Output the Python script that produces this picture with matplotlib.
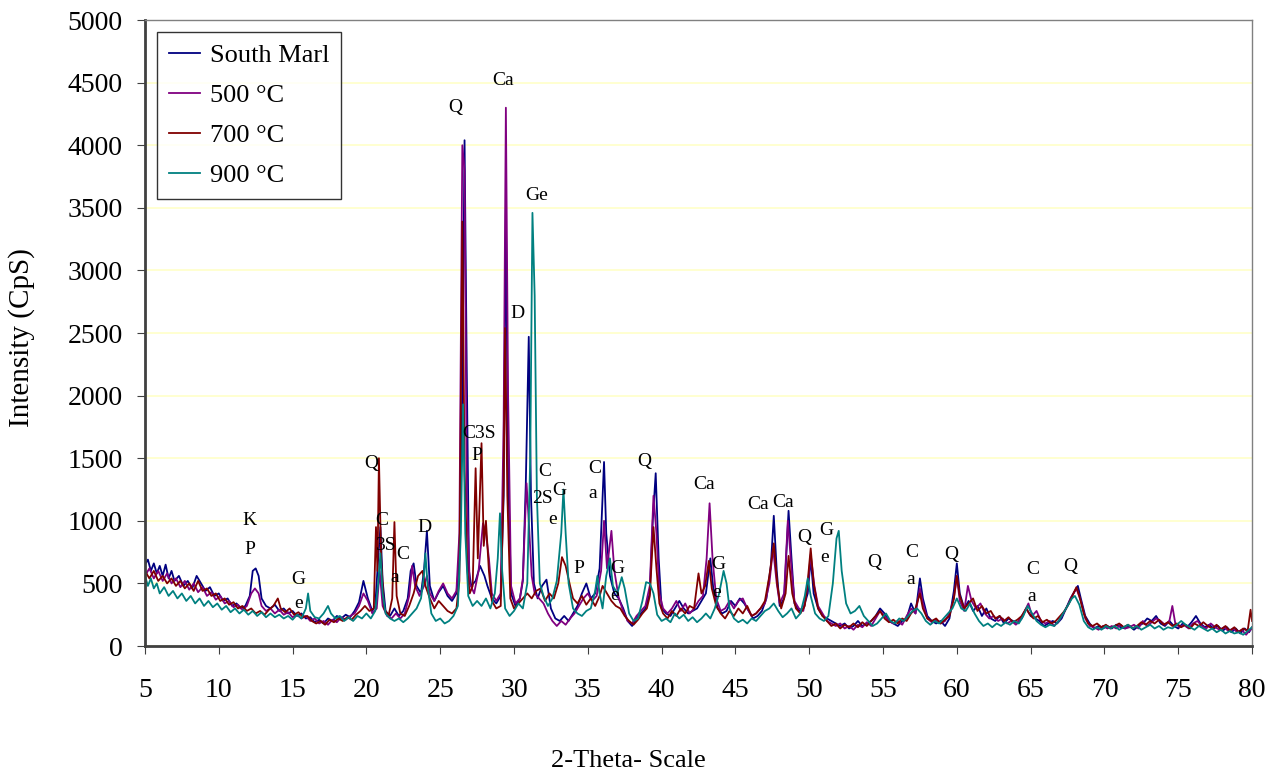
import matplotlib
matplotlib.use("Agg")
import matplotlib.pyplot as plt

# XRD patterns: (2-theta, intensity CpS)
south_marl = [
    (5.0, 650), (5.2, 690), (5.4, 600), (5.6, 660), (5.8, 580), (6.0, 640), (6.2, 560), (6.4, 650),
    (6.6, 540), (6.8, 600), (7.0, 520), (7.3, 560), (7.6, 480), (7.9, 520), (8.2, 460), (8.5, 560),
    (8.8, 500), (9.1, 440), (9.4, 470), (9.7, 400), (10.0, 420), (10.3, 360), (10.6, 380), (10.9, 320),
    (11.2, 340), (11.5, 300), (11.8, 320), (12.1, 400), (12.3, 600), (12.5, 620), (12.7, 560), (12.9, 380),
    (13.2, 320), (13.5, 300), (13.8, 330), (14.1, 280), (14.4, 300), (14.7, 260), (15.0, 280), (15.3, 240),
    (15.6, 260), (15.9, 220), (16.2, 230), (16.5, 190), (16.8, 210), (17.1, 180), (17.4, 220), (17.7, 200),
    (18.0, 240), (18.3, 220), (18.6, 250), (18.9, 230), (19.2, 280), (19.5, 350), (19.8, 520), (20.1, 380),
    (20.4, 280), (20.6, 320), (20.8, 700), (20.95, 950), (21.1, 520), (21.3, 280), (21.6, 240), (21.9, 300),
    (22.2, 240), (22.5, 280), (22.8, 380), (23.0, 600), (23.2, 660), (23.4, 480), (23.7, 420), (23.9, 600),
    (24.1, 920), (24.3, 480), (24.6, 360), (24.9, 430), (25.2, 480), (25.5, 400), (25.8, 360), (26.1, 420),
    (26.3, 700), (26.5, 2000), (26.65, 4040), (26.8, 2200), (26.95, 600), (27.1, 480), (27.4, 520), (27.7, 640),
    (28.0, 560), (28.2, 480), (28.5, 380), (28.8, 340), (29.1, 400), (29.3, 1200), (29.45, 3500), (29.6, 1400),
    (29.8, 420), (30.1, 320), (30.4, 380), (30.6, 520), (30.8, 1300), (31.0, 2470), (31.15, 1200), (31.35, 500),
    (31.6, 380), (31.9, 480), (32.2, 530), (32.5, 300), (32.8, 220), (33.1, 200), (33.4, 240), (33.7, 200),
    (34.0, 260), (34.3, 320), (34.6, 420), (34.9, 500), (35.2, 380), (35.5, 420), (35.8, 620), (36.0, 1200),
    (36.1, 1470), (36.25, 900), (36.5, 560), (36.8, 420), (37.1, 380), (37.4, 300), (37.7, 200), (38.0, 160),
    (38.3, 220), (38.6, 260), (38.9, 300), (39.2, 420), (39.4, 1000), (39.6, 1380), (39.8, 700), (40.0, 300),
    (40.3, 260), (40.6, 240), (40.9, 300), (41.2, 360), (41.5, 300), (41.8, 260), (42.1, 280), (42.4, 300),
    (42.7, 360), (43.0, 420), (43.3, 700), (43.5, 460), (43.8, 300), (44.1, 260), (44.4, 280), (44.7, 360),
    (45.0, 320), (45.3, 380), (45.6, 340), (45.9, 280), (46.2, 220), (46.5, 240), (46.8, 280), (47.1, 380),
    (47.4, 640), (47.6, 1040), (47.8, 600), (48.0, 320), (48.3, 380), (48.6, 1080), (48.8, 700), (49.0, 340),
    (49.3, 280), (49.6, 300), (49.9, 420), (50.1, 700), (50.3, 420), (50.6, 300), (50.9, 240), (51.2, 220),
    (51.5, 200), (51.8, 180), (52.1, 160), (52.4, 180), (52.7, 140), (53.0, 160), (53.3, 200), (53.6, 160),
    (53.9, 180), (54.2, 200), (54.5, 240), (54.8, 300), (55.1, 260), (55.4, 200), (55.7, 180), (56.0, 160),
    (56.3, 200), (56.6, 220), (56.9, 340), (57.2, 260), (57.5, 540), (57.7, 380), (58.0, 240), (58.3, 200),
    (58.6, 180), (58.9, 200), (59.2, 160), (59.5, 220), (59.8, 440), (60.0, 660), (60.2, 420), (60.5, 300),
    (60.8, 360), (61.1, 280), (61.4, 320), (61.7, 240), (62.0, 300), (62.3, 220), (62.6, 200), (62.9, 240),
    (63.2, 180), (63.5, 220), (63.8, 200), (64.1, 180), (64.4, 220), (64.7, 300), (65.0, 240), (65.3, 220),
    (65.6, 200), (65.9, 160), (66.2, 180), (66.5, 200), (66.8, 180), (67.1, 220), (67.4, 300), (67.7, 380),
    (68.0, 440), (68.2, 480), (68.4, 380), (68.7, 240), (69.0, 180), (69.3, 140), (69.6, 160), (69.9, 140),
    (70.2, 160), (70.5, 140), (70.8, 170), (71.1, 150), (71.4, 140), (71.7, 160), (72.0, 130), (72.3, 160),
    (72.6, 180), (72.9, 220), (73.2, 200), (73.5, 240), (73.8, 180), (74.1, 160), (74.4, 200), (74.7, 160),
    (75.0, 140), (75.3, 180), (75.6, 150), (75.9, 190), (76.2, 240), (76.5, 180), (76.8, 150), (77.1, 170),
    (77.4, 140), (77.7, 160), (78.0, 120), (78.3, 150), (78.6, 110), (78.9, 140), (79.2, 100), (79.5, 140),
    (79.8, 110), (80.0, 150),
]

t500 = [
    (5.0, 560), (5.3, 620), (5.6, 540), (5.9, 600), (6.2, 520), (6.5, 580), (6.8, 500), (7.1, 540),
    (7.4, 470), (7.7, 520), (8.0, 450), (8.3, 500), (8.6, 430), (8.9, 470), (9.2, 400), (9.5, 430),
    (9.8, 370), (10.1, 400), (10.4, 340), (10.7, 360), (11.0, 310), (11.3, 330), (11.6, 290), (11.9, 320),
    (12.2, 420), (12.45, 460), (12.7, 420), (12.9, 320), (13.2, 280), (13.5, 300), (13.8, 260), (14.1, 290),
    (14.4, 250), (14.7, 270), (15.0, 230), (15.3, 250), (15.6, 220), (15.9, 240), (16.2, 200), (16.5, 220),
    (16.8, 180), (17.1, 200), (17.4, 170), (17.7, 210), (18.0, 190), (18.3, 230), (18.6, 210), (18.9, 240),
    (19.2, 260), (19.5, 320), (19.8, 420), (20.1, 360), (20.4, 260), (20.7, 300), (20.9, 600), (21.1, 320),
    (21.4, 240), (21.7, 220), (22.0, 260), (22.3, 220), (22.6, 260), (22.9, 400), (23.1, 640), (23.3, 480),
    (23.6, 400), (23.9, 480), (24.1, 560), (24.3, 420), (24.6, 360), (24.9, 440), (25.2, 500), (25.5, 420),
    (25.8, 380), (26.1, 440), (26.3, 900), (26.5, 4000), (26.65, 3800), (26.8, 1200), (27.0, 500), (27.3, 420),
    (27.6, 600), (27.9, 980), (28.1, 900), (28.3, 700), (28.5, 420), (28.8, 360), (29.1, 420), (29.3, 1800),
    (29.45, 4300), (29.6, 2000), (29.8, 480), (30.1, 340), (30.4, 380), (30.6, 540), (30.85, 1300), (31.0, 1000),
    (31.2, 560), (31.4, 420), (31.7, 380), (32.0, 340), (32.3, 260), (32.6, 200), (32.9, 160), (33.2, 200),
    (33.5, 170), (33.8, 220), (34.1, 260), (34.4, 320), (34.7, 380), (35.0, 420), (35.3, 360), (35.6, 400),
    (35.9, 600), (36.1, 1000), (36.3, 620), (36.6, 920), (36.8, 600), (37.1, 380), (37.4, 280), (37.7, 200),
    (38.0, 180), (38.3, 240), (38.6, 280), (38.9, 320), (39.2, 480), (39.45, 1200), (39.65, 900), (39.85, 420),
    (40.1, 300), (40.4, 260), (40.7, 300), (41.0, 360), (41.3, 280), (41.6, 340), (41.9, 260), (42.2, 300),
    (42.5, 360), (42.8, 400), (43.05, 700), (43.25, 1140), (43.45, 700), (43.7, 380), (44.0, 280), (44.3, 300),
    (44.6, 360), (44.9, 300), (45.2, 360), (45.5, 380), (45.8, 300), (46.1, 240), (46.4, 260), (46.7, 300),
    (47.0, 340), (47.3, 500), (47.55, 780), (47.8, 500), (48.0, 340), (48.3, 420), (48.55, 1000), (48.8, 620),
    (49.0, 360), (49.3, 300), (49.6, 280), (49.9, 480), (50.1, 730), (50.35, 480), (50.6, 320), (50.9, 260),
    (51.2, 200), (51.5, 180), (51.8, 160), (52.1, 180), (52.4, 140), (52.7, 160), (53.0, 130), (53.3, 170),
    (53.6, 150), (53.9, 190), (54.2, 160), (54.5, 220), (54.8, 280), (55.1, 240), (55.4, 200), (55.7, 180),
    (56.0, 200), (56.3, 170), (56.6, 240), (56.9, 300), (57.2, 260), (57.5, 460), (57.7, 340), (58.0, 220),
    (58.3, 190), (58.6, 210), (58.9, 180), (59.2, 200), (59.5, 260), (59.8, 380), (60.0, 560), (60.2, 360),
    (60.5, 280), (60.75, 480), (61.0, 360), (61.3, 300), (61.6, 340), (61.9, 260), (62.2, 220), (62.5, 240),
    (62.8, 200), (63.1, 220), (63.4, 180), (63.7, 200), (64.0, 170), (64.3, 220), (64.6, 280), (64.85, 340),
    (65.1, 240), (65.4, 280), (65.7, 200), (66.0, 180), (66.3, 200), (66.6, 160), (66.9, 200), (67.2, 260),
    (67.5, 320), (67.8, 400), (68.1, 460), (68.4, 360), (68.7, 220), (69.0, 160), (69.3, 150), (69.6, 130),
    (69.9, 160), (70.2, 140), (70.5, 160), (70.8, 140), (71.1, 170), (71.4, 140), (71.7, 150), (72.0, 170),
    (72.3, 140), (72.6, 200), (72.9, 160), (73.2, 190), (73.5, 220), (73.8, 200), (74.1, 170), (74.4, 200),
    (74.6, 320), (74.8, 180), (75.1, 150), (75.4, 170), (75.7, 140), (76.0, 180), (76.3, 200), (76.6, 160),
    (76.9, 140), (77.2, 180), (77.5, 150), (77.8, 130), (78.1, 150), (78.4, 120), (78.7, 140), (79.0, 110),
    (79.3, 130), (79.6, 90), (79.8, 120), (80.0, 140),
]

t700 = [
    (5.0, 600), (5.3, 540), (5.6, 600), (5.9, 520), (6.2, 560), (6.5, 500), (6.8, 540), (7.1, 480),
    (7.4, 520), (7.7, 460), (8.0, 500), (8.3, 440), (8.6, 520), (8.9, 440), (9.2, 460), (9.5, 400),
    (9.8, 420), (10.1, 360), (10.4, 380), (10.7, 330), (11.0, 350), (11.3, 300), (11.6, 320), (11.9, 280),
    (12.2, 300), (12.5, 260), (12.8, 280), (13.1, 250), (13.4, 290), (13.7, 320), (14.0, 380), (14.2, 300),
    (14.5, 270), (14.8, 300), (15.1, 250), (15.4, 270), (15.7, 230), (16.0, 240), (16.3, 200), (16.6, 180),
    (16.9, 200), (17.2, 170), (17.5, 210), (17.8, 190), (18.1, 220), (18.4, 200), (18.7, 230), (19.0, 210),
    (19.3, 250), (19.6, 280), (19.9, 320), (20.2, 280), (20.5, 300), (20.65, 950), (20.75, 600), (20.85, 1500),
    (21.0, 700), (21.2, 300), (21.5, 240), (21.75, 380), (21.9, 990), (22.05, 400), (22.3, 260), (22.6, 240),
    (22.9, 320), (23.2, 420), (23.5, 560), (23.8, 600), (24.0, 480), (24.3, 380), (24.6, 300), (24.9, 360),
    (25.2, 320), (25.5, 280), (25.8, 260), (26.1, 300), (26.3, 520), (26.5, 3390), (26.65, 1400), (26.85, 600),
    (27.0, 420), (27.2, 480), (27.4, 1420), (27.55, 700), (27.8, 1620), (27.95, 800), (28.1, 1000), (28.3, 600),
    (28.5, 360), (28.8, 300), (29.1, 320), (29.3, 1300), (29.4, 2540), (29.55, 1200), (29.75, 380), (30.0, 300),
    (30.3, 340), (30.6, 380), (30.9, 420), (31.2, 380), (31.5, 440), (31.8, 460), (32.1, 360), (32.4, 420),
    (32.7, 380), (33.0, 500), (33.25, 710), (33.5, 640), (33.8, 480), (34.0, 380), (34.3, 340), (34.6, 400),
    (34.9, 330), (35.2, 380), (35.5, 320), (35.8, 400), (36.0, 480), (36.3, 420), (36.6, 360), (36.9, 320),
    (37.2, 300), (37.5, 240), (37.8, 200), (38.1, 170), (38.4, 210), (38.7, 260), (39.0, 300), (39.2, 400),
    (39.45, 950), (39.65, 620), (39.85, 340), (40.1, 260), (40.4, 220), (40.7, 280), (41.0, 240), (41.3, 300),
    (41.6, 260), (41.9, 320), (42.2, 300), (42.5, 580), (42.7, 420), (42.95, 480), (43.2, 680), (43.4, 460),
    (43.7, 320), (44.0, 260), (44.3, 220), (44.6, 280), (44.9, 240), (45.2, 300), (45.5, 260), (45.8, 320),
    (46.1, 240), (46.4, 260), (46.7, 300), (47.0, 360), (47.3, 560), (47.6, 820), (47.85, 480), (48.1, 300),
    (48.4, 420), (48.6, 720), (48.85, 420), (49.1, 300), (49.4, 260), (49.7, 320), (49.9, 520), (50.1, 780),
    (50.3, 500), (50.6, 300), (50.9, 240), (51.2, 200), (51.5, 160), (51.8, 180), (52.1, 140), (52.4, 170),
    (52.7, 150), (53.0, 180), (53.3, 150), (53.6, 190), (53.9, 160), (54.2, 200), (54.5, 240), (54.8, 280),
    (55.1, 220), (55.4, 190), (55.7, 210), (56.0, 180), (56.3, 220), (56.6, 200), (56.9, 260), (57.2, 300),
    (57.5, 420), (57.7, 300), (58.0, 220), (58.3, 200), (58.6, 220), (58.9, 180), (59.2, 210), (59.5, 240),
    (59.8, 380), (60.0, 560), (60.2, 400), (60.5, 300), (60.8, 340), (61.1, 380), (61.4, 280), (61.7, 320),
    (62.0, 260), (62.3, 280), (62.6, 220), (62.9, 240), (63.2, 200), (63.5, 230), (63.8, 190), (64.1, 210),
    (64.4, 240), (64.7, 300), (64.9, 260), (65.2, 220), (65.5, 240), (65.8, 190), (66.1, 210), (66.4, 180),
    (66.7, 200), (67.0, 240), (67.3, 280), (67.6, 340), (67.9, 420), (68.1, 470), (68.3, 400), (68.6, 260),
    (68.9, 180), (69.2, 160), (69.5, 180), (69.8, 150), (70.1, 170), (70.4, 140), (70.7, 160), (71.0, 180),
    (71.3, 150), (71.6, 170), (71.9, 140), (72.2, 160), (72.5, 190), (72.8, 170), (73.1, 200), (73.4, 180),
    (73.7, 210), (74.0, 170), (74.3, 190), (74.6, 160), (74.9, 180), (75.2, 150), (75.5, 170), (75.8, 140),
    (76.1, 180), (76.4, 160), (76.7, 190), (77.0, 160), (77.3, 140), (77.6, 170), (77.9, 130), (78.2, 160),
    (78.5, 120), (78.8, 150), (79.1, 110), (79.4, 140), (79.7, 120), (79.9, 290), (80.0, 200),
]

t900 = [
    (5.0, 560), (5.2, 480), (5.4, 540), (5.6, 460), (5.8, 500), (6.0, 420), (6.3, 470), (6.6, 400),
    (6.9, 440), (7.2, 380), (7.5, 420), (7.8, 360), (8.1, 400), (8.4, 340), (8.7, 380), (9.0, 320),
    (9.3, 360), (9.6, 310), (9.9, 340), (10.2, 290), (10.5, 320), (10.8, 270), (11.1, 300), (11.4, 260),
    (11.7, 290), (12.0, 250), (12.3, 280), (12.6, 240), (12.9, 270), (13.2, 230), (13.5, 260), (13.8, 230),
    (14.1, 250), (14.4, 220), (14.7, 240), (15.0, 210), (15.3, 250), (15.6, 220), (15.9, 300), (16.05, 420),
    (16.2, 280), (16.5, 230), (16.8, 220), (17.1, 260), (17.4, 320), (17.6, 260), (17.9, 220), (18.2, 240),
    (18.5, 200), (18.8, 230), (19.1, 200), (19.4, 240), (19.7, 220), (20.0, 260), (20.3, 220), (20.6, 280),
    (20.8, 500), (20.95, 740), (21.1, 420), (21.3, 260), (21.6, 220), (21.9, 200), (22.2, 220), (22.5, 190),
    (22.8, 220), (23.1, 260), (23.4, 300), (23.7, 380), (23.9, 560), (24.0, 740), (24.15, 480), (24.4, 260),
    (24.7, 200), (25.0, 220), (25.3, 180), (25.6, 200), (25.9, 240), (26.2, 320), (26.4, 900), (26.55, 1930),
    (26.7, 900), (26.9, 400), (27.2, 320), (27.5, 360), (27.8, 320), (28.1, 380), (28.4, 300), (28.7, 420),
    (28.9, 700), (29.05, 1060), (29.2, 600), (29.4, 300), (29.7, 240), (30.0, 280), (30.3, 340), (30.6, 300),
    (30.9, 500), (31.1, 1500), (31.25, 3460), (31.4, 2800), (31.55, 1200), (31.75, 500), (32.0, 400), (32.3, 320),
    (32.6, 380), (32.9, 520), (33.2, 900), (33.35, 1250), (33.5, 900), (33.7, 500), (34.0, 300), (34.3, 260),
    (34.6, 240), (34.9, 280), (35.2, 300), (35.5, 440), (35.65, 560), (35.8, 420), (36.0, 300), (36.25, 560),
    (36.5, 700), (36.7, 480), (37.0, 420), (37.3, 550), (37.5, 460), (37.8, 260), (38.1, 200), (38.4, 220),
    (38.7, 360), (38.95, 510), (39.2, 500), (39.45, 420), (39.7, 250), (40.0, 200), (40.3, 220), (40.6, 190),
    (40.9, 260), (41.2, 220), (41.5, 250), (41.8, 200), (42.1, 230), (42.4, 190), (42.7, 220), (43.0, 260),
    (43.3, 220), (43.6, 300), (43.9, 420), (44.2, 600), (44.4, 500), (44.6, 300), (44.9, 220), (45.2, 190),
    (45.5, 210), (45.8, 180), (46.1, 220), (46.4, 200), (46.7, 240), (47.0, 280), (47.3, 300), (47.6, 340),
    (47.9, 280), (48.2, 230), (48.5, 260), (48.8, 300), (49.1, 220), (49.4, 260), (49.7, 400), (49.9, 540),
    (50.1, 400), (50.4, 260), (50.7, 220), (51.0, 200), (51.3, 240), (51.6, 500), (51.85, 860), (52.0, 920),
    (52.2, 600), (52.5, 340), (52.8, 260), (53.1, 280), (53.4, 320), (53.7, 240), (54.0, 200), (54.3, 160),
    (54.6, 180), (54.9, 220), (55.2, 260), (55.5, 200), (55.8, 180), (56.1, 220), (56.4, 200), (56.7, 240),
    (57.0, 280), (57.3, 300), (57.6, 260), (57.9, 200), (58.2, 170), (58.5, 200), (58.8, 180), (59.1, 220),
    (59.4, 260), (59.7, 300), (60.0, 380), (60.3, 300), (60.6, 280), (60.9, 340), (61.2, 260), (61.5, 200),
    (61.8, 160), (62.1, 180), (62.4, 150), (62.7, 180), (63.0, 160), (63.3, 190), (63.6, 170), (63.9, 200),
    (64.2, 180), (64.5, 240), (64.8, 320), (65.1, 260), (65.4, 200), (65.7, 170), (66.0, 150), (66.3, 170),
    (66.6, 160), (66.9, 200), (67.2, 260), (67.5, 320), (67.8, 380), (68.0, 400), (68.3, 330), (68.6, 200),
    (68.9, 150), (69.2, 130), (69.5, 150), (69.8, 130), (70.1, 160), (70.4, 140), (70.7, 160), (71.0, 130),
    (71.3, 150), (71.6, 170), (71.9, 140), (72.2, 160), (72.5, 130), (72.8, 150), (73.1, 170), (73.4, 140),
    (73.7, 160), (74.0, 130), (74.3, 150), (74.6, 140), (74.9, 170), (75.2, 200), (75.5, 170), (75.8, 150),
    (76.1, 130), (76.4, 160), (76.7, 140), (77.0, 120), (77.3, 140), (77.6, 110), (77.9, 130), (78.2, 100),
    (78.5, 120), (78.8, 100), (79.1, 110), (79.4, 90), (79.7, 120), (80.0, 150),
]

series_names = ["South Marl", "500 °C", "700 °C", "900 °C"]
series_colors = ["#000080", "#800080", "#800000", "#008080"]

# phase labels (text, 2-theta, intensity)
phase_labels = [
    ("K", 12.1, 1000), ("P", 12.1, 770), ("G", 15.4, 530), ("e", 15.4, 340),
    ("Q", 20.3, 1460), ("C", 21.05, 1000), ("3S", 21.3, 800), ("C", 22.45, 730), ("a", 21.95, 545),
    ("D", 23.95, 950), ("Q", 26.0, 4300), ("Ca", 29.25, 4520), ("Ge", 31.55, 3600),
    ("D", 30.25, 2660), ("C3S", 27.6, 1700), ("P", 27.5, 1520),
    ("C", 32.05, 1390), ("2S", 31.9, 1180), ("G", 33.1, 1240), ("e", 32.6, 1010),
    ("P", 34.4, 620), ("C", 35.5, 1420), ("a", 35.35, 1215), ("G", 37.0, 620), ("e", 36.8, 400),
    ("Q", 38.8, 1470), ("Ca", 42.9, 1290), ("G", 43.85, 650), ("e", 43.75, 430),
    ("Ca", 46.55, 1130), ("Ca", 48.25, 1145), ("Q", 49.65, 870), ("G", 51.15, 920), ("e", 51.05, 705),
    ("Q", 54.4, 665), ("C", 56.95, 745), ("a", 56.85, 535), ("Q", 59.6, 730),
    ("C", 65.15, 610), ("a", 65.05, 395), ("Q", 67.7, 635),
]

plt.rcParams['font.family'] = ['Liberation Serif', 'DejaVu Serif']

fig = plt.figure(figsize=(12.75, 7.72), dpi=100)
ax = fig.add_axes([0.1137, 0.1632, 0.8683, 0.8108])

for data, name, col in zip([south_marl, t500, t700, t900], series_names, series_colors):
    xs = [p[0] for p in data]
    ys = [p[1] for p in data]
    ax.plot(xs, ys, color=col, lw=1.3, label=name)

for txt, x, y in phase_labels:
    ax.text(x, y, txt, fontsize=14, ha='center', va='center', color='black')

ax.set_xlim(5, 80)
ax.set_ylim(0, 5000)
ax.set_xticks(range(5, 81, 5))
ax.set_yticks(range(0, 5001, 500))
ax.yaxis.grid(True, color='#FFFFC8', lw=1.2)
ax.set_axisbelow(True)
ax.tick_params(direction='out', length=6, labelsize=20, color='#404040')
ax.tick_params(axis='x', pad=17)
ax.tick_params(axis='y', pad=10)

for s in ['left', 'bottom']:
    ax.spines[s].set_color('#404040')
    ax.spines[s].set_linewidth(2)
for s in ['top', 'right']:
    ax.spines[s].set_color('#808080')
    ax.spines[s].set_linewidth(1)

# axis titles placed where the reference has them
fig.text(29 / 1275, 1 - 338 / 772, "Intensity (CpS)", fontsize=21, rotation=90,
         rotation_mode='anchor', ha='center', va='baseline')
fig.text(628 / 1275, 1 - 767 / 772, "2-Theta- Scale", fontsize=19, ha='center', va='baseline')

leg = ax.legend(loc='upper left', bbox_to_anchor=(0.0, 1.0), fontsize=19, frameon=True,
                fancybox=False, edgecolor='black', handlelength=1.2, handletextpad=0.35,
                borderpad=0.45, labelspacing=0.62, borderaxespad=0.45)
leg.get_frame().set_linewidth(1)

fig.savefig("out.png", dpi=100)
